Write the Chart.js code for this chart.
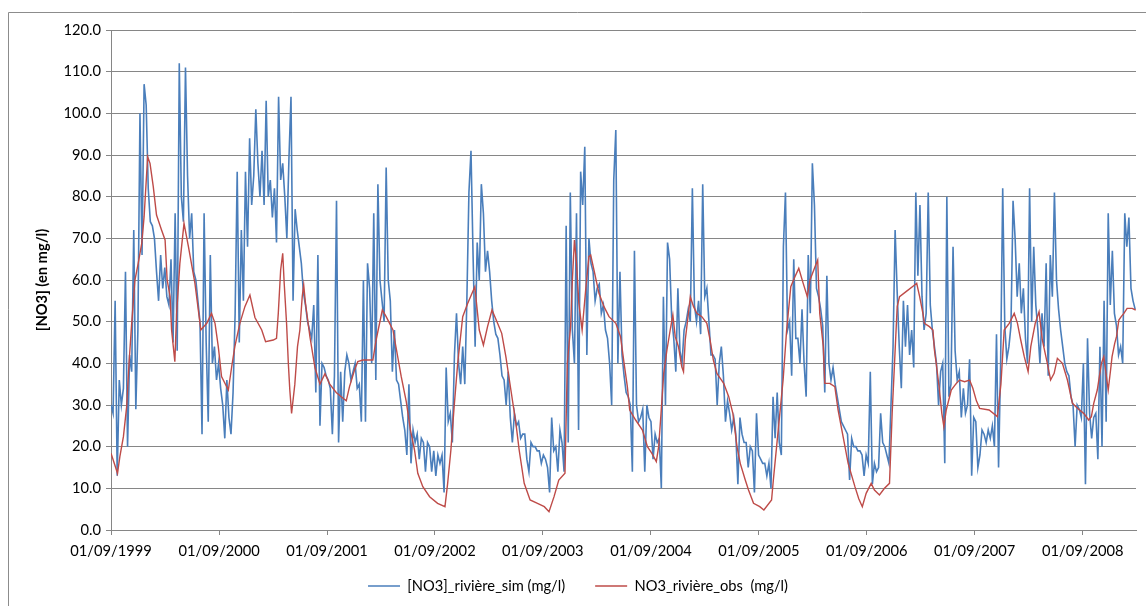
<!DOCTYPE html>
<html><head><meta charset="utf-8">
<script src="https://cdn.jsdelivr.net/npm/chart.js@4.4.1/dist/chart.umd.min.js"></script>
<style>html,body{margin:0;padding:0;background:#fff;}#wrap{width:1146px;height:606px;}</style>
</head><body><div id="wrap"><canvas id="c" width="1146" height="606"></canvas></div>
<script>
// ---- data ----
const tickDates = ['01/09/1999','01/09/2000','01/09/2001','01/09/2002','01/09/2003','01/09/2004','01/09/2005','01/09/2006','01/09/2007','01/09/2008'];
const axisEndDate = '28/02/2009';
const seriesLabels = ['[NO3]_rivière_sim (mg/l)', 'NO3_rivière_obs  (mg/l)'];
const yAxisTitle = '[NO3] (en mg/l)';
const yMin = 0, yMax = 120, yStep = 10;

// simulated series: one value every 7 days starting 01/09/1999
const simStartDate = '01/09/1999';
const simStepDays = 7;
const simValues = [
30,28,55,13,36,30,34,62,20,42, 38,72,29,48,100,66,107,102,82,74,
73,70,62,55,66,58,63,56,54,65, 45,76,43,112,80,74,111,85,70,76,
62,60,55,50,23,76,45,26,66,40, 44,36,40,34,30,22,36,27,23,33,
52,86,45,72,55,86,68,94,78,85, 101,88,80,91,78,103,80,84,75,82,
69,104,84,88,80,70,89,104,55,77, 72,68,64,57,54,50,48,46,54,33,
66,25,40,39,37,36,34,23,37,79, 21,38,26,38,42,40,36,38,40,34,
35,26,60,26,64,58,40,76,36,83, 60,55,50,87,60,55,38,48,36,35,
31,27,24,18,35,16,24,21,23,17, 22,21,14,21,20,14,19,13,18,16,
18,9,39,26,28,21,42,52,40,35, 44,35,55,81,91,66,44,69,60,83,
76,62,67,62,55,50,47,46,42,37, 36,30,38,27,21,28,25,26,22,23,
23,17,14,21,20,20,19,19,16,18, 17,15,9,27,19,20,14,24,21,14,
73,21,81,48,40,76,24,86,78,92, 42,70,64,62,55,58,59,52,54,48,
46,40,30,84,96,40,62,42,37,33, 32,30,14,67,30,26,27,29,14,30,
27,26,17,23,21,22,10,56,30,69, 65,51,46,38,58,43,40,48,50,53,
50,82,54,50,55,47,83,56,58,50, 42,42,41,30,40,44,37,26,31,28,
24,27,23,11,27,23,21,21,15,20, 19,9,28,18,17,16,16,13,16,10,
32,22,33,21,18,68,81,48,50,37, 65,46,46,40,53,40,32,66,52,88,
78,58,56,53,49,33,61,40,36,39, 35,32,29,26,25,24,23,12,22,20,
20,19,19,18,13,18,16,38,11,16, 14,15,28,21,20,18,16,30,44,72,
57,44,34,55,44,54,42,48,39,81, 61,78,56,48,52,81,54,48,44,40,
30,38,40,16,80,32,35,68,43,36, 38,27,34,28,30,41,13,27,26,15,
18,24,23,21,24,22,25,20,47,15, 40,82,49,41,44,49,79,70,56,64,
52,58,46,40,82,50,68,54,48,40, 52,44,64,37,66,56,81,60,53,48,
44,40,38,37,32,30,20,30,29,27, 40,11,46,28,22,27,28,17,44,20,
55,26,76,54,67,52,49,42,44,40, 76,68,75,58,55,53
];

// observed series: day offsets from 01/09/1999 and values
const obsDays = [
0,22,30,42,53,61,70,81,92,104,112,124,132,143,154,171,183,190,200,205,216,222,233,247,262,284,304,324,340,352,
363,374,397,408,419,436,453,470,487,510,523,549,560,566,574,581,586,594,600,605,611,622,631,639,647,652,658,673,690,707,
724,740,762,779,796,807,824,835,852,886,897,918,931,954,966,982,999,1013,1027,1038,1055,1078,1105,1130,1139,1150,1161,1173,1190,1207,
1231,1246,1260,1274,1289,1308,1322,1336,1353,1370,1381,1398,1418,1443,1466,1482,1499,1515,1536,1544,1555,1561,1568,1575,1583,1594,1606,1617,1623,1634,
1651,1668,1685,1708,1724,1736,1747,1755,1775,1798,1815,1830,1845,1853,1861,1870,1881,1892,1901,1909,1920,1931,1937,1943,1951,1960,1971,1982,1999,2016,
2027,2038,2050,2073,2090,2104,2118,2129,2146,2157,2174,2195,2209,2235,2241,2252,2263,2274,2286,2300,2314,2327,2342,2356,2365,2382,2391,2398,2410,2415,
2432,2449,2460,2477,2494,2517,2530,2542,2555,2572,2583,2600,2617,2634,2643,2651,2660,2668,2690,2719,2726,2736,2747,2752,2769,2781,2786,2792,2803,2811,
2818,2826,2843,2860,2871,2888,2905,2916,2928,2939,2971,2999,3011,3022,3039,3056,3067,3078,3090,3103,3112,3127,3140,3151,3168,3179,3191,3202,3219,3236,
3253,3270,3291,3308,3317,3325,3337,3344,3351,3359,3365,3374,3382,3387,3396,3402,3410,3418,3427,3438,3455,3467
];
const obsValues = [
18.4,13.6,17.6,22.4,29.6,40,49.6,60,64,68.8,75.2,89.6,88,82.4,75.6,72,69.6,60,56,48,40.4,52,64,73.6,68,59.2,48,49.6,52,49.6,
44,36.8,33.6,39,44,49.6,53.6,56.4,51,48,45.2,45.6,46,52,62.4,66.4,59.2,49.6,40,33.6,28,35,44,48,56,58.8,54.4,46.4,39,35,
37.5,35,33,32,31,34.4,38.4,40.4,40.8,40.8,45.6,52.8,51.2,48,43.2,36.8,30.8,24,19.2,13.6,10.4,8,6.4,5.6,11.2,19.2,29.6,40,51.2,54.4,
58.4,48,44.4,48.8,52.8,49.6,47.2,41.6,33.6,25.6,19.2,11.2,7.2,6.4,5.6,4.4,8,12,13.6,40,48.8,60,69.6,64,54.4,48,57.6,65.6,66,62.4,
56.8,53.6,51.2,49.6,46.4,40,34.4,28.8,26.4,24,20,18.4,16.4,20,28,37.6,43.2,48,51.6,46.4,44,39.2,38,45.6,50.4,56,53.6,52,51.2,49.6,
45.6,40.8,37.6,35.2,32,28,20,16,12,9.6,6.4,5.6,4.8,7.2,12,20,28,36,48,58.4,60.8,62.8,59.2,56,60,63.2,64.8,52,44,35.2,
35.2,34.4,28.8,22.4,16,10.4,7.5,5.6,8.8,11.2,9.6,8.4,10,11.2,28,40,53.6,56,57.2,58.8,59.2,56,52,49.6,48.8,48,43.2,40,33.6,28,
24.8,28.8,33.6,35.2,36,35.6,36,34,31,29.2,28.8,27.2,35,48,49.6,52,49.6,45.6,41.6,38,44,49.6,52.4,45.6,40,36,37.6,41.2,40,36,
30.4,29.2,28,26.4,27.2,30.4,33.6,36.8,40,41.6,38.4,33.6,38.4,41.6,44.8,46.4,50.4,51.2,52,53.2,53.2,52.8
];

// ---- helpers ----
function dayOf(s){ const p = s.split('/'); return (Date.UTC(+p[2], +p[1]-1, +p[0]) - Date.UTC(1999, 8, 1)) / 86400000; }
const tickDays = tickDates.map(dayOf);
const simStart = dayOf(simStartDate);
const simData = simValues.map((v,i) => ({x: simStart + i*simStepDays, y: v}));
const obsData = obsDays.map((d,i) => ({x: d, y: obsValues[i]}));

const FONT = 'Lato, "Open Sans", sans-serif';
const FS = 14.7;
const GRID = '#868686';
const LEG_PAD = 30;

const tweak = {
  id: 'tweak',
  afterLayout(chart){
    const lg = chart.legend;
    const dx = 10;
    lg.left += dx; lg.right += dx;
    const h = lg.height;
    lg.top = 586 - LEG_PAD - FS/2;
    lg.bottom = lg.top + h;
    // let the x tick labels extend below the (squeezed) axis box without clipping
    chart.scales.x.bottom = chart.height;
  },
  beforeDraw(chart){
    const ctx = chart.ctx;
    ctx.save();
    ctx.fillStyle = '#fff';
    ctx.fillRect(0,0,chart.width,chart.height);
    ctx.strokeStyle = '#8c8c8c';
    ctx.lineWidth = 1;
    ctx.beginPath();
    ctx.moveTo(8.5, chart.height); ctx.lineTo(8.5, 12.5); ctx.lineTo(chart.width, 12.5);
    ctx.stroke();
    ctx.restore();
  }
};

new Chart(document.getElementById('c'), {
  type: 'line',
  data: {
    datasets: [
      { label: seriesLabels[0], data: simData, borderColor: '#4a7ebb', backgroundColor: '#4a7ebb', borderWidth: 1.6, pointRadius: 0, tension: 0, order: 1 },
      { label: seriesLabels[1], data: obsData, borderColor: '#be4b48', backgroundColor: '#be4b48', borderWidth: 1.4, pointRadius: 0, tension: 0, order: 0 }
    ]
  },
  options: {
    responsive: false,
    animation: false,
    devicePixelRatio: 1,
    events: [],
    layout: { padding: { top: 30, right: 10, left: 0, bottom: 0 } },
    plugins: {
      tooltip: { enabled: false },
      legend: {
        position: 'bottom',
        labels: {
          usePointStyle: true, pointStyle: 'line', pointStyleWidth: 32,
          padding: LEG_PAD, color: '#000', font: { family: FONT, size: FS },
          sort: (a,b) => a.datasetIndex - b.datasetIndex
        }
      }
    },
    scales: {
      x: {
        type: 'linear', min: 0, max: dayOf(axisEndDate),
        afterBuildTicks: (s) => { s.ticks = tickDays.map(v => ({value: v})); },
        afterFit: (s) => { s.height = Math.max(2, 606 - 530 - s.chart.legend.height); },
        ticks: { autoSkip: false, maxRotation: 0, color: '#000', padding: 7,
          font: { family: FONT, size: FS },
          callback: (v, i) => tickDates[i] },
        grid: { drawOnChartArea: false, drawTicks: true, tickLength: 5, color: GRID },
        border: { color: GRID }
      },
      y: {
        min: yMin, max: yMax,
        afterFit: (s) => { s.width = 111; },
        ticks: { stepSize: yStep, color: '#000', padding: 5,
          font: { family: FONT, size: FS },
          callback: (v) => Number(v).toFixed(1) },
        grid: { color: GRID, tickLength: 5 },
        border: { color: GRID },
        title: { display: true, text: yAxisTitle, color: '#000',
          font: { family: FONT, size: FS, weight: 'bold' }, padding: { top: 33, bottom: 0 } }
      }
    }
  },
  plugins: [tweak]
});
</script></body></html>
